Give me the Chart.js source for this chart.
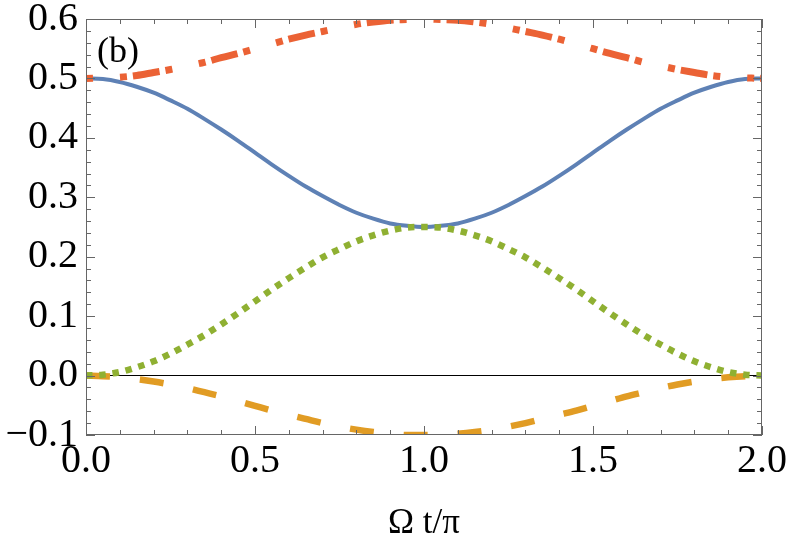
<!DOCTYPE html>
<html lang="en">
  <head>
    <meta charset="UTF-8" />
    <title>Populations vs Omega t</title>
    <style>
      body {
        margin: 0;
        background: #fff;
      }
      .wrap {
        width: 789px;
        height: 544px;
      }
    </style>
  </head>
  <body>
    <div class="wrap">
      <canvas id="myChart"></canvas>
    </div>
    <script src="https://cdn.jsdelivr.net/npm/chart.js"></script>
    <script>
      // x values (Omega t / pi), sampled every 0.05
      const xs = [
        0, 0.05, 0.1, 0.15, 0.2, 0.25, 0.3, 0.35, 0.4, 0.45, 0.5, 0.55, 0.6,
        0.65, 0.7, 0.75, 0.8, 0.85, 0.9, 0.95, 1.0, 1.05, 1.1, 1.15, 1.2, 1.25,
        1.3, 1.35, 1.4, 1.45, 1.5, 1.55, 1.6, 1.65, 1.7, 1.75, 1.8, 1.85, 1.9,
        1.95, 2.0,
      ];
      // blue solid
      const blueVals = [
        0.5, 0.499, 0.494, 0.486, 0.476, 0.463, 0.449, 0.432, 0.414, 0.395,
        0.375, 0.355, 0.336, 0.318, 0.302, 0.287, 0.274, 0.264, 0.256, 0.252,
        0.25, 0.252, 0.256, 0.264, 0.274, 0.287, 0.302, 0.318, 0.336, 0.355,
        0.375, 0.395, 0.414, 0.432, 0.449, 0.463, 0.476, 0.486, 0.494, 0.499,
        0.5,
      ];
      // orange dashed
      const orangeVals = [
        0, -0.001, -0.003, -0.006, -0.01, -0.015, -0.021, -0.028, -0.035,
        -0.043, -0.051, -0.059, -0.066, -0.073, -0.08, -0.086, -0.091, -0.095,
        -0.098, -0.1, -0.1, -0.1, -0.098, -0.095, -0.091, -0.086, -0.08,
        -0.073, -0.066, -0.059, -0.051, -0.043, -0.035, -0.028, -0.021, -0.015,
        -0.01, -0.006, -0.003, -0.001, 0,
      ];
      // green dotted
      const greenVals = [
        0, 0.0015, 0.006, 0.014, 0.024, 0.037, 0.052, 0.068, 0.086, 0.105,
        0.125, 0.145, 0.164, 0.182, 0.199, 0.213, 0.226, 0.236, 0.244, 0.249,
        0.25, 0.249, 0.244, 0.236, 0.226, 0.213, 0.199, 0.182, 0.164, 0.145,
        0.125, 0.105, 0.086, 0.068, 0.052, 0.037, 0.024, 0.014, 0.006, 0.0015,
        0,
      ];
      // red dot-dashed
      const redVals = [
        0.5, 0.501, 0.502, 0.505, 0.51, 0.515, 0.521, 0.527, 0.535, 0.542,
        0.55, 0.558, 0.566, 0.573, 0.579, 0.585, 0.591, 0.595, 0.598, 0.599,
        0.6, 0.599, 0.598, 0.595, 0.591, 0.585, 0.579, 0.573, 0.566, 0.558,
        0.55, 0.542, 0.535, 0.527, 0.521, 0.515, 0.51, 0.505, 0.502, 0.501,
        0.5,
      ];
      const xTicks = [0, 0.5, 1.0, 1.5, 2.0];
      const yTicks = [-0.1, 0, 0.1, 0.2, 0.3, 0.4, 0.5, 0.6];
      const xMinorStep = 0.1;
      const yMinorStep = 0.02;
      const panelLabel = "(b)";
      const xTitle = "Ω t/π";

      const toPts = (vals) => vals.map((v, i) => ({ x: xs[i], y: v }));
      const fmt = (v) => Number(v).toFixed(1).replace("-", "\u2212");

      // frame with inward ticks on all four sides
      const frame = {
        id: "frame",
        afterDatasetsDraw(chart) {
          const { ctx, chartArea: a, scales } = chart;
          const xs_ = scales.x;
          const ys_ = scales.y;
          ctx.save();
          ctx.strokeStyle = "#666";
          ctx.lineWidth = 1;
          ctx.strokeRect(a.left + 0.5, a.top + 0.5, a.right - a.left - 1, a.bottom - a.top - 1);
          ctx.beginPath();
          for (let v = 0; v <= 2.0001; v += xMinorStep) {
            const major = xTicks.some((t) => Math.abs(t - v) < 1e-6);
            const len = major ? 9 : 5;
            const px = Math.round(xs_.getPixelForValue(v)) + 0.5;
            ctx.moveTo(px, a.bottom);
            ctx.lineTo(px, a.bottom - len);
            ctx.moveTo(px, a.top);
            ctx.lineTo(px, a.top + len);
          }
          for (let v = -0.1; v <= 0.6001; v += yMinorStep) {
            const major = yTicks.some((t) => Math.abs(t - v) < 1e-6);
            const len = major ? 9 : 5;
            const py = Math.round(ys_.getPixelForValue(v)) + 0.5;
            ctx.moveTo(a.left, py);
            ctx.lineTo(a.left + len, py);
            ctx.moveTo(a.right, py);
            ctx.lineTo(a.right - len, py);
          }
          ctx.stroke();
          ctx.fillStyle = "#000";
          ctx.font = "36px 'Liberation Serif'";
          ctx.textAlign = "left";
          ctx.textBaseline = "alphabetic";
          ctx.fillText(panelLabel, a.left + 11, a.top + 43);
          ctx.restore();
        },
      };

      const ctx = document.getElementById("myChart");
      const myChart = new Chart(ctx, {
        type: "line",
        data: {
          datasets: [
            {
              label: "blue",
              data: toPts(blueVals),
              borderColor: "#5E81B5",
              borderWidth: 4,
              order: 4,
            },
            {
              label: "orange",
              data: toPts(orangeVals),
              borderColor: "#E19C24",
              borderWidth: 6.5,
              borderDash: [24, 30],
              order: 3,
            },
            {
              label: "green",
              data: toPts(greenVals),
              borderColor: "#8FB032",
              borderWidth: 6.5,
              borderDash: [6.5, 6.8],
              order: 2,
            },
            {
              label: "red",
              data: toPts(redVals),
              borderColor: "#EB6235",
              borderWidth: 7,
              borderDash: [7, 27, 7, 6, 27, 6],
              order: 1,
            },
          ],
        },
        options: {
          responsive: true,
          maintainAspectRatio: false,
          animation: false,
          elements: {
            point: { radius: 0 },
            line: { cubicInterpolationMode: "monotone", borderCapStyle: "butt", fill: false },
          },
          layout: { padding: { top: 19, right: 27, left: 0, bottom: 0 } },
          plugins: {
            legend: { display: false },
            tooltip: { enabled: false },
          },
          scales: {
            x: {
              type: "linear",
              min: 0,
              max: 2,
              afterBuildTicks(scale) {
                scale.ticks = xTicks.map((v) => ({ value: v }));
              },
              afterFit(scale) {
                scale.height = 109;
                scale.paddingLeft = 0;
                scale.paddingRight = 0;
              },
              ticks: {
                callback: fmt,
                color: "#000",
                padding: 6,
                maxRotation: 0,
                font: { family: "'Liberation Serif'", size: 40, lineHeight: 1 },
              },
              grid: { drawOnChartArea: false, drawTicks: false },
              border: { display: false },
              title: {
                display: true,
                text: xTitle,
                color: "#000",
                padding: { top: 0, bottom: 3 },
                font: { family: "'Liberation Serif'", size: 35, lineHeight: 1 },
              },
            },
            y: {
              min: -0.1,
              max: 0.6,
              afterBuildTicks(scale) {
                scale.ticks = yTicks.map((v) => ({ value: v }));
              },
              afterFit(scale) {
                scale.width = 86;
                scale.paddingTop = 0;
                scale.paddingBottom = 0;
              },
              ticks: {
                callback: fmt,
                color: "#000",
                padding: 8,
                font: { family: "'Liberation Serif'", size: 40, lineHeight: 1 },
              },
              grid: {
                drawTicks: false,
                color: (c) => (c.tick && Math.abs(c.tick.value) < 1e-9 ? "#000" : "rgba(0,0,0,0)"),
                lineWidth: 1,
              },
              border: { display: false },
            },
          },
        },
        plugins: [frame],
      });
    </script>
  </body>
</html>
